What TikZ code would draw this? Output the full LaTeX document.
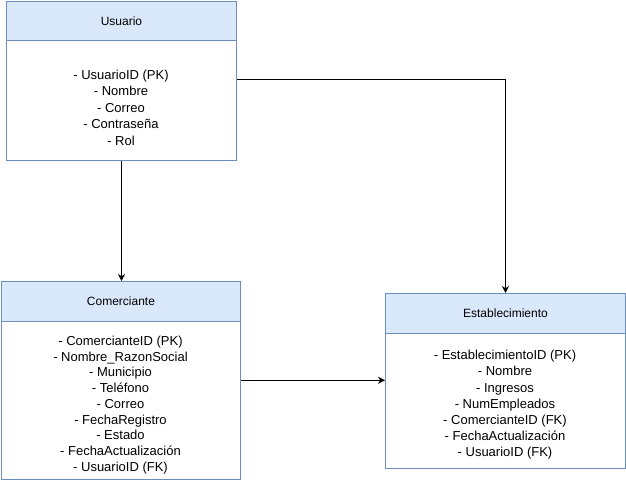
\documentclass[tikz,border=0pt]{standalone}
\usepackage{fontspec}
\setmainfont{Liberation Sans}
\usetikzlibrary{arrows.meta}
\definecolor{hdrfill}{HTML}{DAE8FC}
\definecolor{hdrline}{HTML}{6C8EBF}
\begin{document}
\begin{tikzpicture}[x=1pt,y=-1pt,
  hdr/.style={draw=hdrline, fill=hdrfill, line width=1pt, inner sep=0pt, anchor=north west,
    font=\fontsize{12}{14}\selectfont},
  bodybox/.style={draw=hdrline, fill=white, line width=1pt, inner sep=0pt, anchor=north west},
  attr/.style={align=center, inner sep=0pt, font=\fontsize{13}{16}\selectfont},
  conn/.style={draw=black, line width=1pt, -{Stealth[length=7pt,width=7pt]}}]
\useasboundingbox (0,0) rectangle (626,481);
% Usuario
\node[hdr, minimum width=230pt, minimum height=39.5pt] (usuH) at (6,1) {Usuario};
\node[bodybox, minimum width=230pt, minimum height=119.5pt] (usuB) at (6,40.5) {};
\node[attr, font=\fontsize{13}{16.5}\selectfont] (usuT) at (121,107.5) {- UsuarioID (PK)\\- Nombre\\- Correo\\- Contraseña\\- Rol};
% Comerciante
\node[hdr, minimum width=239pt, minimum height=39.5pt] (comH) at (1,281) {Comerciante};
\node[bodybox, minimum width=239pt, minimum height=158.5pt] (comB) at (1,320.5) {};
\node[attr, font=\fontsize{13}{15.7}\selectfont] (comT) at (120.5,405) {- ComercianteID (PK)\\- Nombre\_RazonSocial\\- Municipio\\- Teléfono\\- Correo\\- FechaRegistro\\- Estado\\- FechaActualización\\- UsuarioID (FK)};
% Establecimiento
\node[hdr, minimum width=240pt, minimum height=39.5pt] (estH) at (385,293) {Establecimiento};
\node[bodybox, minimum width=240pt, minimum height=135pt] (estB) at (385,332.5) {};
\node[attr, font=\fontsize{13}{16.2}\selectfont] (estT) at (505,405) {- EstablecimientoID (PK)\\- Nombre\\- Ingresos\\- NumEmpleados\\- ComercianteID (FK)\\- FechaActualización\\- UsuarioID (FK)};
% Connectors
\draw[conn] (usuB.south) -- (usuB.south |- comH.north);
\draw[conn] ([yshift=-39.5pt]usuB.north east) -| (estH.north);
\draw[conn] ([yshift=20pt]comB.east) -- ([yshift=20pt]comB.east -| estB.west);
\end{tikzpicture}
\end{document}
